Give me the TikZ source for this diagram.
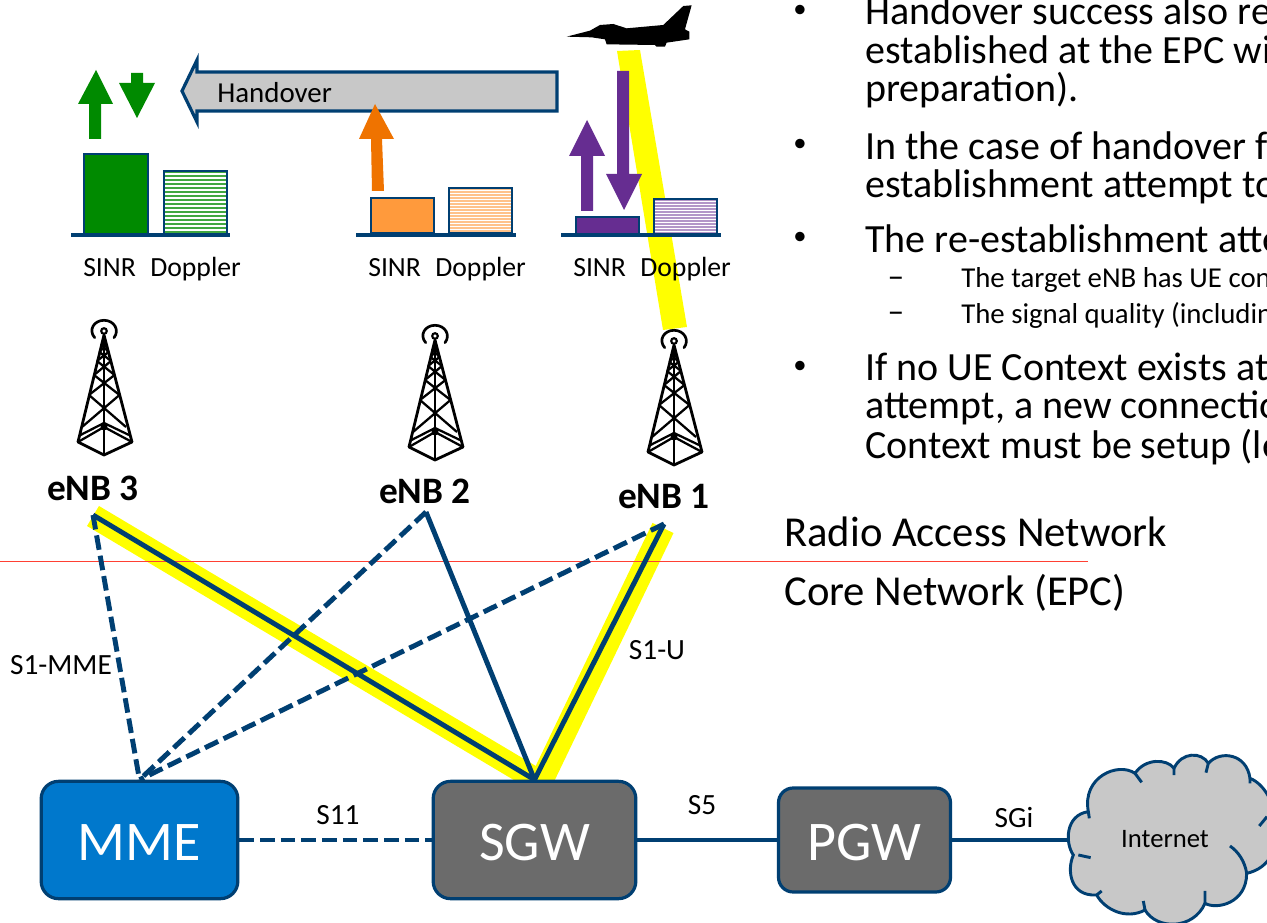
\documentclass[tikz,border=0pt]{standalone}
\usepackage{fontspec}
\setmainfont{Carlito}
\definecolor{navy}{HTML}{003F72}
\definecolor{mmeblue}{HTML}{0078CC}
\definecolor{boxgray}{HTML}{6B6B6B}
\definecolor{lightgray}{HTML}{C8C8C8}
\definecolor{hgreen}{HTML}{008A00}
\definecolor{horange}{HTML}{EF7300}
\definecolor{lorange}{HTML}{FF9A3C}
\definecolor{hpurple}{HTML}{662D91}
\definecolor{hyellow}{HTML}{FFFF00}
\definecolor{sepred}{rgb}{1,0.25,0.2}
\newcommand{\fs}[1]{\fontsize{#1}{#1}\selectfont}
\newcommand{\boxtext}[1]{\raisebox{-15pt}[0pt][0pt]{#1}}
\tikzset{
  x=0.75pt,y=-0.75pt,
  lbl/.style={inner sep=0pt,font=\fs{22},text=black},
  sublbl/.style={inner sep=0pt,anchor=base west,font=\fs{20.8},text=black},
  big/.style={inner sep=0pt,anchor=base west,font=\fs{30},text=black},
  small/.style={inner sep=0pt,anchor=base west,font=\fs{21.6},text=black},
  bul/.style={inner sep=0pt,anchor=base,font=\fs{20},text=black},
  dsh/.style={inner sep=0pt,anchor=base,font=\fs{25},text=black},
  net/.style={inner sep=0pt,anchor=base west,font=\fs{32},text=black},
  enbl/.style={inner sep=0pt,font=\fs{28}\bfseries,text=black},
  netbox/.style={draw=navy,line width=2.4pt,rounded corners=13pt,text=white,font=\fs{42},inner sep=0pt},
  link/.style={draw=navy,line width=3.7pt},
  dlink/.style={draw=navy,line width=3.7pt,dash pattern=on 11pt off 4.5pt},
  beam/.style={draw=hyellow,line width=17.5pt},
  bar/.style={draw=navy,line width=1.5pt},
  base/.style={draw=navy,line width=3pt},
  sepline/.style={draw=sepred,line width=1.1pt},
  tline/.style={draw=black,line width=1.7pt},
  tower/.pic={
    \draw[tline,line width=1.6pt] (0,0) circle[radius=2.8];
    \draw[tline,line width=2pt,line cap=round] (-9.3,6.7) .. controls (-16,-1) and (-10,-10.7) .. (0,-10.7) .. controls (10,-10.7) and (16,-1) .. (10,6.7);
    \draw[tline,line width=2.1pt,line cap=round,line join=round] (0,4) -- (-26,111) -- (0,124) -- (28,111) -- cycle;
    \draw[tline,line width=2.1pt] (0,4) -- (0,124);
    \draw[tline] (-26,111) -- (0,96) -- (28,111);
    \draw[tline] (-23.5,104) -- (0,92) -- (25,104);
    \draw[tline] (-22,96) -- (15.5,64) (22,96) -- (-15,64);
    \draw[tline] (-15,64) -- (10.5,44) (15.5,64) -- (-10,44);
    \draw[tline] (-10,44) -- (7,30) (10.5,44) -- (-7,30);
    \draw[tline] (-7,30) -- (4.5,21) (7,30) -- (-4.5,21);
    \draw[tline] (-4.5,21) -- (3,13) (4.5,21) -- (-3,13);
    \fill[black] (0,96) circle[radius=3.5];
  },
}
\newcommand{\stripes}[6]{% x1 x2 y1 y2 colour step
  \begin{scope}
    \clip (#1,#3) rectangle (#2,#4);
    \fill[white] (#1,#3) rectangle (#2,#4);
    \foreach \yy in {#3,#6,...,#4} {\fill[#5] (#1,\yy) rectangle (#2,\yy+2);}
  \end{scope}
  \draw[bar] (#1,#3) rectangle (#2,#4);
}
\begin{document}
\begin{tikzpicture}
\useasboundingbox (0,0) rectangle (1267,923);
\clip (0,0) rectangle (1267,923);
\fill[white] (0,0) rectangle (1267,923);

% beam from the aircraft
\fill[hyellow] (617,51) -- (640,50) -- (687,327) -- (663,330) -- cycle;

% named anchors
\coordinate (e3) at (93,515);
\coordinate (e2) at (426,512);
\coordinate (e1) at (664,524);
\coordinate (e3y) at (93,516);
\coordinate (e1y) at (663,528);
\coordinate (s3y) at (545,785);
\coordinate (s1y) at (539,786);
\coordinate (cloudin) at (1068,840);
\coordinate (sepl) at (0,561.5);
\coordinate (sepr) at (1088,561.5);

% yellow bearer path
\draw[beam] (e3y) -- (s3y);
\draw[beam] (e1y) -- (s1y);

% network boxes
\node[netbox,fill=mmeblue,minimum width=147.5pt,minimum height=88pt] (mme) at (139.5,840) {\boxtext{MME}};
\node[netbox,fill=boxgray,minimum width=152pt,minimum height=88pt] (sgw) at (534.5,840) {\boxtext{SGW}};
\node[netbox,fill=boxgray,minimum width=129pt,minimum height=78pt,rounded corners=11pt] (pgw) at (864.5,840) {\boxtext{PGW}};

% red separator
\draw[sepline] (sepl) -- (sepr);

% links
\draw[dlink] (e3) -- (mme.north);
\draw[dlink] (e2) -- (mme.north);
\draw[dlink] (e1) -- (mme.north);
\draw[link] (e3) -- (sgw.north);
\draw[link] (e2) -- (sgw.north);
\draw[link] (e1) -- (sgw.north);
\draw[dlink] (mme.east) -- (sgw.west);
\draw[link] (sgw.east) -- (pgw.west);
\draw[link] (pgw.east) -- (cloudin);

% cloud
\begin{scope}[shift={(1050,740)},scale=0.3333]
\filldraw[fill=lightgray,draw=navy,line width=2.2pt]
 (70,345) .. controls (45,310) and (45,225) .. (115,215)
 .. controls (95,110) and (205,65) .. (255,100)
 .. controls (285,55) and (350,55) .. (372,85)
 .. controls (395,35) and (455,35) .. (475,70)
 .. controls (510,30) and (590,40) .. (600,115)
 .. controls (690,150) and (730,370) .. (590,400)
 .. controls (590,490) and (500,510) .. (465,490)
 .. controls (430,570) and (320,570) .. (285,510)
 .. controls (230,540) and (165,510) .. (140,465)
 .. controls (60,470) and (50,390) .. (70,345) -- cycle;
\draw[navy,line width=2.2pt]
 (255,100) -- (275,127) (372,85) -- (372,105) (475,70) -- (468,98)
 (600,115) -- (600,130) (115,215) -- (118,235)
 (85,345) -- (122,353) (140,465) -- (155,453)
 (285,510) -- (280,483) (465,490) -- (465,453)
 (590,400) .. controls (585,365) and (565,335) .. (540,318)
 (651,230) -- (628,258);
\end{scope}
\node[inner sep=0pt,font=\fs{20}] (inet) at (1165,839) {Internet};

% plane
\begin{scope}[shift={(350,0)},scale=0.3333]
\fill[black] (650,110) -- (720,92) -- (750,75) -- (790,72) -- (830,85) -- (940,75) -- (1000,18) -- (1025,16)
 -- (1005,88) -- (1018,95) -- (1018,118) -- (950,128) -- (945,140) -- (920,140) -- (915,135) -- (770,133) -- (765,118) -- (725,112) -- cycle;
\end{scope}

% handover arrow
\filldraw[fill=lightgray,draw=navy,line width=2.4pt] (182,91) -- (197,60) -- (197,72) -- (557,72) -- (557,111) -- (197,111) -- (197,122) -- cycle;
\node[lbl,anchor=west,font=\fs{21.7}] (ho) at (217,93) {Handover};

% block arrows
\fill[hgreen] (96,70) -- (113,104) -- (101,104) -- (101,139) -- (89,139) -- (89,104) -- (78,104) -- cycle;
\fill[hgreen] (137,118) -- (155,83) -- (143,83) -- (143,73) -- (131,73) -- (131,83) -- (119,83) -- cycle;
\fill[horange] (375,104) -- (394,139) -- (382,139) -- (384,191) -- (372,191) -- (371,139) -- (359,139) -- cycle;
\fill[hpurple] (587,120) -- (605,156) -- (593,156) -- (593,211) -- (581,211) -- (581,156) -- (569,156) -- cycle;
\fill[hpurple] (624,210) -- (642,174) -- (629,174) -- (629,71) -- (617,71) -- (617,174) -- (606,174) -- cycle;

% bars
\draw[bar,fill=hgreen] (84,154) rectangle (148,234);
\stripes{164}{227}{171}{234}{hgreen!75}{175}
\draw[base] (71,235.5) -- (230,235.5);
\draw[bar,fill=lorange] (371,198) rectangle (434,233);
\stripes{449}{512}{188}{233}{lorange!60}{191}
\draw[base] (356,235) -- (516,235);
\draw[bar,fill=hpurple] (576,217) rectangle (639,234);
\stripes{654}{717}{199}{234}{hpurple!50}{202}
\draw[base] (561,235) -- (721,235);

% bar labels
\node[sublbl] (s3) at (83,277) {SINR};
\node[sublbl] (d3) at (150,277) {Doppler};
\node[sublbl] (s2) at (368,277) {SINR};
\node[sublbl] (d2) at (435,277) {Doppler};
\node[sublbl] (s1) at (573,277) {SINR};
\node[sublbl] (d1) at (640,277) {Doppler};

% towers
\pic at (104,331) {tower};
\pic at (435,336) {tower};
\pic at (674,341) {tower};

% eNB labels
\node[enbl] (l3) at (93,488) {eNB 3};
\node[enbl] (l2) at (425,491) {eNB 2};
\node[enbl] (l1) at (664,497) {eNB 1};

% link labels
\node[lbl] (ls1) at (61,665) {S1-MME};
\node[lbl] (ls2) at (657,650) {S1-U};
\node[lbl] (ls3) at (338,815) {S11};
\node[lbl] (ls4) at (702,805) {S5};
\node[lbl] (ls5) at (1014,818) {SGi};

% right text
\node[net] (ran) at (784,546.5) {Radio Access Network};
\node[net] (cn) at (784,605.5) {Core Network (EPC)};

\node[bul] (b1) at (800,18) {•};
\node[big] (t1) at (865,25) {Handover success also re};
\node[big] (t2) at (865,64) {established at the EPC wi};
\node[big] (t3) at (865,102) {preparation).};
\node[bul] (b2) at (800,152) {•};
\node[big] (t4) at (865,160) {In the case of handover f};
\node[big] (t5) at (865,198) {establishment attempt to};
\node[bul] (b3) at (800,245) {•};
\node[big] (t6) at (865,253) {The re-establishment atte};
\node[dsh] (d4) at (896,288) {–};
\node[small] (t7) at (961,288) {The target eNB has UE con};
\node[dsh] (d5) at (896,323) {–};
\node[small] (t8) at (961,324) {The signal quality (includin};
\node[bul] (b4) at (800,374) {•};
\node[big] (t9) at (865,381) {If no UE Context exists at};
\node[big] (t10) at (865,419) {attempt, a new connectio};
\node[big] (t11) at (865,458) {Context must be setup (le};
\end{tikzpicture}
\end{document}
